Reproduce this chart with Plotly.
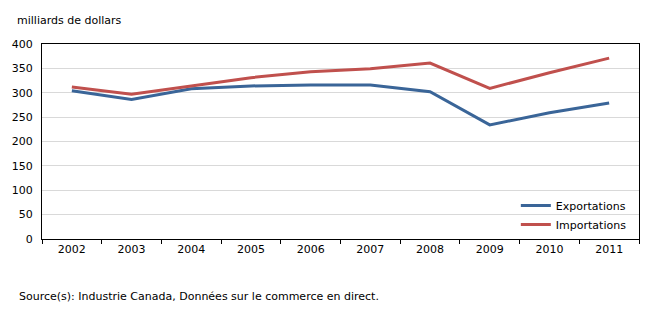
import plotly.graph_objects as go

years = ["2002", "2003", "2004", "2005", "2006", "2007", "2008", "2009", "2010", "2011"]
exportations = [304, 286, 308, 314, 316, 316, 302, 234, 259, 279]
importations = [312, 297, 314, 331, 343, 349, 361, 309, 341, 371]
y_ticks = [0, 50, 100, 150, 200, 250, 300, 350, 400]

W, H = 671, 317
L, R, T, B = 42, 31.5, 44, 78
font = dict(family="DejaVu Sans, Verdana, sans-serif", size=11, color="#000000")

fig = go.Figure()
fig.add_trace(go.Scatter(x=years, y=exportations, mode="lines", name="Exportations",
                         line=dict(color="#3a6598", width=3)))
fig.add_trace(go.Scatter(x=years, y=importations, mode="lines", name="Importations",
                         line=dict(color="#c0504d", width=3)))

fig.update_layout(
    width=W, height=H,
    margin=dict(l=L, r=R, t=T, b=B, pad=0),
    paper_bgcolor="white", plot_bgcolor="white",
    font=font,
    showlegend=True,
    legend=dict(x=0.988, xanchor="right", y=0.0, yanchor="bottom",
                bgcolor="rgba(0,0,0,0)", font=font, tracegroupgap=0,
                itemwidth=30),
    xaxis=dict(type="category", range=[-0.5, 9.5], showgrid=False,
               ticks="outside", tickson="boundaries", ticklen=4, tickcolor="#000",
               showline=True, linecolor="#000", linewidth=1, mirror=True,
               tickfont=font, fixedrange=True),
    yaxis=dict(range=[0, 400], tickvals=y_ticks, showgrid=True, gridcolor="#d9d9d9",
               gridwidth=1, zeroline=False, showline=True, linecolor="#000",
               linewidth=1, mirror=True, ticks="", tickfont=font, ticklabelstandoff=6),
    annotations=[
        dict(text="milliards de dollars", xref="paper", yref="paper",
             x=-L / (W - L - R) + 15 / (W - L - R), xanchor="left",
             y=1 + (T - 21) / (H - T - B), yanchor="middle", showarrow=False, font=font),
        dict(text="Source(s): Industrie Canada, Données sur le commerce en direct.",
             xref="paper", yref="paper",
             x=-L / (W - L - R) + 17 / (W - L - R), xanchor="left",
             y=-(296 - (H - B)) / (H - T - B), yanchor="middle", showarrow=False, font=font),
    ],
)

fig.write_html("out.html")
